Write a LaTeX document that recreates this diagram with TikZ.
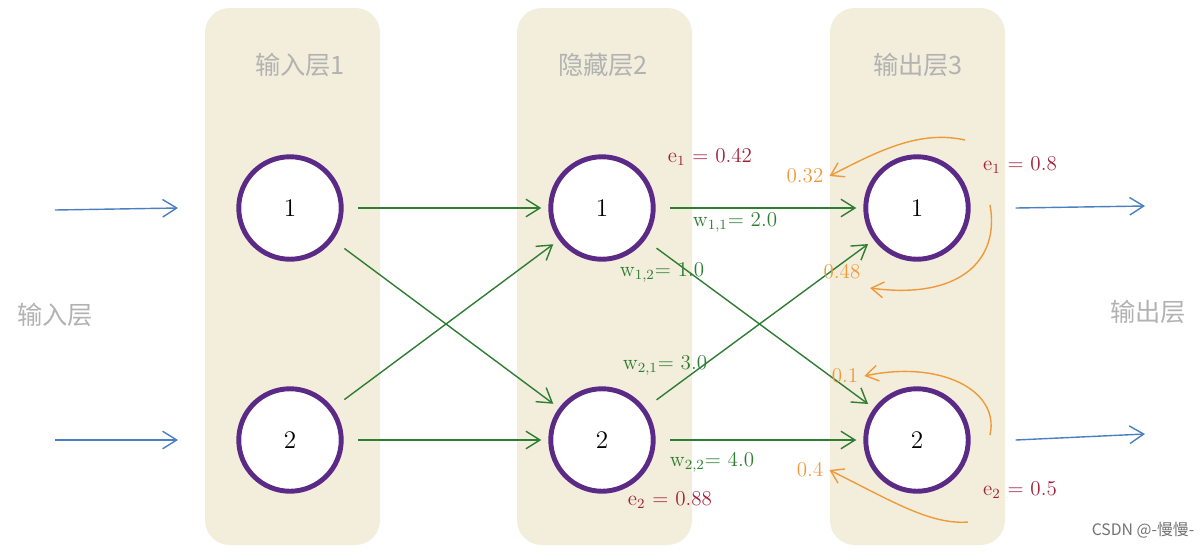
\documentclass[tikz,border=0pt]{standalone}
\usepackage{fontspec}
\newfontfamily\cjk{Noto Sans CJK SC}
\usetikzlibrary{arrows.meta}
\definecolor{panelC}{HTML}{F3EEDC}
\definecolor{ringC}{HTML}{5B2A86}
\definecolor{wC}{HTML}{2E7D32}
\definecolor{eC}{HTML}{A3203A}
\definecolor{oC}{HTML}{EE9A3A}
\definecolor{inC}{HTML}{4A7FC0}
\begin{document}
\begin{tikzpicture}
[x=0.02cm,y=-0.02cm,
  panelDecorate/.style={fill=panelC,rounded corners=14pt,draw=none},%
  nodeDecorate/.style={shape=circle,minimum size=2.05cm,line width=2.8pt,draw=ringC,fill=white,font=\Large},%
  titleDecorate/.style={text=black!30,font=\cjk\Large},%
  blueArrow/.style={-{Straight Barb[length=8pt,width=10pt]},inC,thick},%
  greenArrow/.style={-{Straight Barb[length=8pt,width=10pt]},wC,thick},%
  orangeArrow/.style={-{Straight Barb[length=7pt,width=9pt]},oC,thick},%
  wLabel/.style={text=wC,font=\large},%
  eLabel/.style={text=eC,font=\large},%
  oLabel/.style={text=oC,font=\large}]
\useasboundingbox (0,0) rectangle (1200,552);
%% panels
\foreach \x in {205,517,830}
{
  \fill[panelDecorate] (\x,8) rectangle ++(175,537);
}
\node[titleDecorate] (t1) at (300,65) {输入层1};
\node[titleDecorate] (t2) at (603,65) {隐藏层2};
\node[titleDecorate] (t3) at (918,65) {输出层3};
\node[titleDecorate] (lin) at (55,315) {输入层};
\node[titleDecorate] (lout) at (1148,312) {输出层};
%% nodes
\foreach \nodename/\x/\y/\t in {
  a1/290/208/1, a2/290/440/2, b1/602/208/1, b2/602/440/2, c1/917/208/1, c2/917/440/2}
{
  \node (\nodename) at (\x,\y) [nodeDecorate] {\t};
}
%% free ends
\coordinate (i1) at (55,210); \coordinate (i2) at (55,440);
\coordinate (o1) at (1145,206); \coordinate (o2) at (1145,434);
\draw[blueArrow] (i1) -- (a1.west -| 178,0);
\draw[blueArrow] (i2) -- (a2.west -| 178,0);
\draw[blueArrow] (c1.east) ++(45,0) -- (o1);
\draw[blueArrow] (c2.east) ++(45,0) -- (o2);
%% edges
\foreach \s/\e in {a1/b1, a1/b2, a2/b1, a2/b2, b1/c1, b1/c2, b2/c1, b2/c2}
{
  \draw[greenArrow,shorten <=8pt,shorten >=4pt] (\s) -- (\e);
}
\node[wLabel] (w11) at (735,222) {w\textsubscript{1,1}= 2.0};
\node[wLabel] (w12) at (662,272) {w\textsubscript{1,2}= 1.0};
\node[wLabel] (w21) at (665,365) {w\textsubscript{2,1}= 3.0};
\node[wLabel] (w22) at (712,462) {w\textsubscript{2,2}= 4.0};
\node[eLabel] (e1h) at (710,157) {e\textsubscript{1} = 0.42};
\node[eLabel] (e2h) at (670,500) {e\textsubscript{2} = 0.88};
\node[eLabel] (e1o) at (1020,165) {e\textsubscript{1} = 0.8};
\node[eLabel] (e2o) at (1020,490) {e\textsubscript{2} = 0.5};
\node[oLabel] (r1) at (805,176) {0.32};
\node[oLabel] (r2) at (842,272) {0.48};
\node[oLabel] (r3) at (845,376) {0.1};
\node[oLabel] (r4) at (810,470) {0.4};
%% back arrows
\draw[orangeArrow] (965,140) .. controls (920,130) and (880,150) .. (r1.east);
\draw[orangeArrow] (990,205) .. controls (1000,260) and (960,300) .. (870,288);
\draw[orangeArrow] (990,435) .. controls (1000,390) and (940,360) .. (r3.east);
\draw[orangeArrow] (968,522) .. controls (930,525) and (890,500) .. (r4.east);
\node[text=black!55,font=\cjk\small] (mark) at (1143,530) {CSDN @-慢慢-};
\end{tikzpicture}
\end{document}
